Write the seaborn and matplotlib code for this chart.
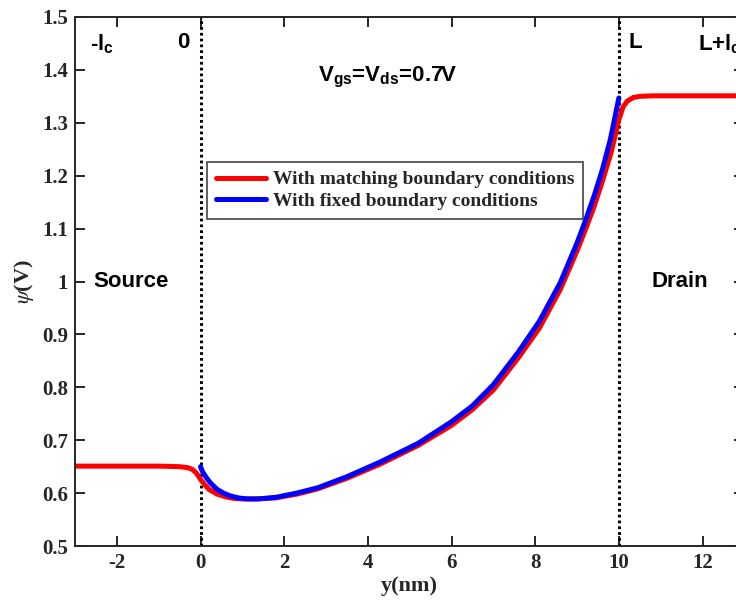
import matplotlib
matplotlib.use("Agg")
import matplotlib.pyplot as plt
import seaborn as sns
import pandas as pd
from matplotlib.ticker import FuncFormatter, FixedLocator

# ---- data ----
x_match = [-3, -1, -0.5, -0.3, -0.2, -0.1, 0, 0.1, 0.2, 0.4, 0.6, 0.8, 1.0, 1.3, 1.8,
           2.3, 2.8, 3.5, 4.3, 5.2, 6.0, 6.5, 7.0, 7.6, 8.1, 8.6, 9.0, 9.2, 9.4, 9.6,
           9.8, 9.9, 10.0, 10.1, 10.2, 10.35, 10.5, 10.8, 11.5, 13]
y_match = [0.651, 0.651, 0.650, 0.648, 0.645, 0.638, 0.626, 0.616, 0.607, 0.598, 0.593,
           0.590, 0.589, 0.589, 0.591, 0.598, 0.608, 0.628, 0.655, 0.690, 0.728, 0.758,
           0.795, 0.856, 0.912, 0.985, 1.058, 1.098, 1.140, 1.188, 1.240, 1.272, 1.306,
           1.330, 1.341, 1.348, 1.350, 1.351, 1.351, 1.351]

x_fixed = [0, 0.05, 0.15, 0.25, 0.4, 0.55, 0.7, 0.9, 1.1, 1.4, 1.8, 2.3, 2.8, 3.5, 4.3,
           5.2, 6.0, 6.5, 7.0, 7.6, 8.1, 8.6, 9.0, 9.2, 9.4, 9.6, 9.8, 10.0]
y_fixed = [0.650, 0.640, 0.628, 0.618, 0.607, 0.600, 0.595, 0.591, 0.589, 0.589, 0.592,
           0.600, 0.610, 0.631, 0.659, 0.694, 0.735, 0.765, 0.805, 0.867, 0.925, 0.998,
           1.073, 1.115, 1.160, 1.210, 1.270, 1.347]

series_names = ["With matching boundary conditions", "With fixed boundary conditions"]
x_ticks = [-2, 0, 2, 4, 6, 8, 10, 12]
y_ticks = [0.5, 0.6, 0.7, 0.8, 0.9, 1.0, 1.1, 1.2, 1.3, 1.4, 1.5]

df = pd.concat([
    pd.DataFrame({"y": x_match, "psi": y_match, "series": series_names[0]}),
    pd.DataFrame({"y": x_fixed, "psi": y_fixed, "series": series_names[1]}),
], ignore_index=True)

sns.set_theme(style="ticks")
plt.rcParams["mathtext.fontset"] = "custom"
plt.rcParams["mathtext.rm"] = "Liberation Sans:bold"
plt.rcParams["mathtext.it"] = "Liberation Sans:bold"
plt.rcParams["mathtext.bf"] = "Liberation Sans:bold"

fig = plt.figure(figsize=(7.36, 6.09), dpi=100)
ax = fig.add_axes([75/736, 63/609, (744.4-75)/736, 529/609])

sns.lineplot(data=df, x="y", y="psi", hue="series", sort=False, estimator=None,
             palette={series_names[0]: "#ff0000", series_names[1]: "#0000ff"},
             linewidth=3.6, ax=ax)

ax.axvline(0, color="black", linestyle=(0, (0.9, 1.0)), linewidth=2.2, zorder=1)
ax.axvline(10, color="black", linestyle=(0, (0.9, 1.0)), linewidth=2.2, zorder=1)

ax.set_xlim(-3, 13)
ax.set_ylim(0.5, 1.5)
ax.xaxis.set_major_locator(FixedLocator(x_ticks))
ax.yaxis.set_major_locator(FixedLocator(y_ticks))
ax.yaxis.set_major_formatter(FuncFormatter(lambda v, p: f"{v:g}"))
ax.xaxis.set_major_formatter(FuncFormatter(lambda v, p: f"{v:g}"))

spine_col = "#262626"
for s in ax.spines.values():
    s.set_visible(True)
    s.set_color(spine_col)
    s.set_linewidth(1.4)
ax.tick_params(direction="in", length=7, width=1.4, color=spine_col,
               top=True, right=True, labelsize=15, pad=5, labelcolor=spine_col)
for lab in ax.get_xticklabels() + ax.get_yticklabels():
    lab.set_fontfamily("Liberation Serif")
    lab.set_fontweight("bold")

ax.set_xlabel("y(nm)", fontfamily="Liberation Serif", fontweight="bold",
              fontsize=16, color=spine_col, labelpad=2)
ax.set_ylabel(r"$\psi$(V)", fontfamily="Liberation Serif", fontweight="bold",
              fontsize=16, color=spine_col, labelpad=4, math_fontfamily="stix")

leg = ax.legend(loc="upper left", bbox_to_anchor=(0.197, 0.726), frameon=True,
                fancybox=False, handlelength=2.6, handletextpad=0.35,
                borderpad=0.45, labelspacing=0.2, borderaxespad=0,
                prop={"family": "Liberation Serif", "weight": "bold", "size": 14})
leg.get_frame().set_edgecolor(spine_col)
leg.get_frame().set_linewidth(1.3)
for h in leg.get_lines():
    h.set_linewidth(3.6)

tk = dict(fontfamily="Liberation Sans", fontweight="bold", fontsize=16,
          color="black", math_fontfamily="custom")
ax.text(-2.65, 1.448, r"-l$_\mathrm{c}$", ha="left", va="center", **tk)
ax.text(-0.55, 1.452, "0", ha="left", va="center", **tk)
ax.text(10.22, 1.452, "L", ha="left", va="center", **tk)
ax.text(11.9, 1.448, r"L+l$_\mathrm{c}$", ha="left", va="center", **tk)
ax.text(-1.65, 1.0, "Source", ha="center", va="center", **tk)
ax.text(11.45, 1.0, "Drain", ha="center", va="center", **tk)
ax.text(2.8, 1.385, r"V$_\mathrm{gs}$=V$_\mathrm{ds}$=0.7V", ha="left", va="center", **tk)

fig.savefig("out.png", dpi=100)
